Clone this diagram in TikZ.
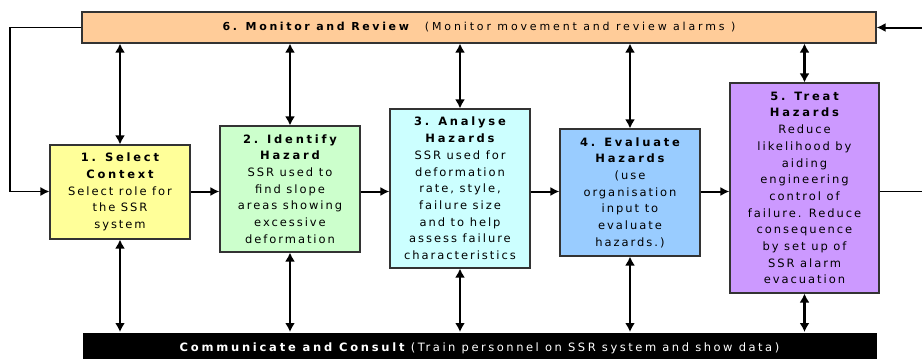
\documentclass[tikz,border=0pt]{standalone}
\usepackage{fontspec}
\setmainfont{DejaVu Sans}[LetterSpace=22]
\newfontfamily\headfont{DejaVu Sans Bold}[LetterSpace=24]
\usetikzlibrary{arrows.meta}

\definecolor{peach}{HTML}{FFCC99}
\definecolor{paleyellow}{HTML}{FFFF99}
\definecolor{palegreen}{HTML}{CCFFCC}
\definecolor{palecyan}{HTML}{CCFFFF}
\definecolor{paleblue}{HTML}{99CCFF}
\definecolor{palelilac}{HTML}{CC99FF}
\definecolor{edgegray}{HTML}{333333}

\newcommand{\hd}[1]{{\headfont #1}}

\begin{document}
\begin{tikzpicture}[
        x=1pt, y=-1pt,
        stage/.style={
            rectangle,
            draw=edgegray,
            line width=1.1pt,
            minimum width=140pt,
            inner sep=0pt,
            align=center,
            font=\fontsize{11.5}{16.7}\selectfont\addfontfeature{LetterSpace=17}
        },
        band/.style={
            rectangle,
            line width=1.1pt,
            minimum width=794pt,
            inner sep=0pt,
            font=\fontsize{11}{14}\selectfont
        },
        relation/.style={
            <->,
            line width=2.6pt,
            >={Latex[length=9pt,width=10pt]}
        },
        flow/.style={
            ->,
            line width=2pt,
            >={Latex[length=9pt,width=9pt]}
        },
        feedback/.style={
            line width=1.4pt,
            >={Latex[length=9pt,width=9pt]}
        }
    ]
        \useasboundingbox (0,0) rectangle (922,359);
        \clip (0,0) rectangle (922,359);

        % the two bands
        \node[band, draw=edgegray, fill=peach, minimum height=31pt] (monitor) at (479,27.5)
            {\raisebox{-1pt}{{\addfontfeature{LetterSpace=28}\hd{6. Monitor and Review}}\hspace{16pt}{\addfontfeature{LetterSpace=26}(Monitor movement and review alarms )}}};
        \node[band, fill=black, text=white, minimum height=32pt, anchor=north,
              font=\fontsize{11.5}{14}\selectfont] (consult) at (479.5,332)
            {\raisebox{-1pt}{\hd{Communicate and Consult} (Train personnel on SSR system and show data)}};

        % the five stages
        \node[stage, fill=paleyellow, minimum height=94pt] (select) at (120,192)
            {\hd{1. Select}\\\hd{Context}\\Select role for\\the SSR\\system};
        \node[stage, fill=palegreen, minimum height=126pt] (identify) at (290,189)
            {\hd{2. Identify}\\\hd{Hazard}\\SSR used to\\find slope\\areas showing\\excessive\\deformation};
        \node[stage, fill=palecyan, minimum height=159pt] (analyse) at (460,188.5)
            {\hd{3. Analyse}\\\hd{Hazards}\\SSR used for\\deformation\\rate, style,\\failure size\\and to help\\assess failure\\characteristics};
        \node[stage, fill=paleblue, minimum height=127pt] (evaluate) at (630,192.5)
            {\hd{4. Evaluate}\\\hd{Hazards}\\(use\\organisation\\input to\\evaluate\\hazards.)};
        \node[stage, fill=palelilac, minimum width=149pt, minimum height=210pt] (treat) at (804.5,188)
            {\hd{5. Treat}\\\hd{Hazards}\\Reduce\\likelihood by\\aiding\\engineering\\control of\\failure. Reduce\\consequence\\by set up of\\SSR alarm\\evacuation};

        \coordinate (flowline) at (0,191.5);
        \coordinate (loopleft) at (10,191.5);
        \coordinate (inright) at (922,27.5);
        \coordinate (outright) at (922,191.5);

        % links to monitor and consult
        \foreach \s in {select, identify, analyse, evaluate, treat} {
            \draw[relation] (monitor.south -| \s.north) -- (\s.north);
            \draw[relation] (\s.south) -- (consult.north -| \s.south);
        }

        % the main flow
        \draw[flow] (select.east |- flowline) -- (identify.west |- flowline);
        \draw[flow] (identify.east |- flowline) -- (analyse.west |- flowline);
        \draw[flow] (analyse.east |- flowline) -- (evaluate.west |- flowline);
        \draw[flow] (evaluate.east |- flowline) -- (treat.west |- flowline);

        % feedback in and out
        \draw[feedback, ->] (monitor.west) -| (loopleft) -- (select.west |- loopleft);
        \draw[flow] (inright) -- (monitor.east);
        \draw[feedback] (treat.east |- outright) -- (outright);

    \end{tikzpicture}
\end{document}
